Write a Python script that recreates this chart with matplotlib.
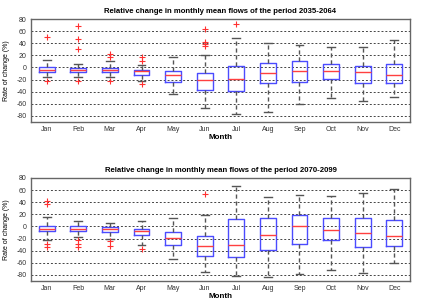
import matplotlib
matplotlib.use("Agg")
import matplotlib.pyplot as plt

months = ["Jan", "Feb", "Mar", "Apr", "May", "Jun", "Jul", "Aug", "Sep", "Oct", "Nov", "Dec"]
yticks = [-80, -60, -40, -20, 0, 20, 40, 60, 80]

# Period 2035-2064
p1_whislo = [-16, -16, -16, -21.7, -44, -67, -77, -73, -61, -50.5, -55.6, -49]
p1_q1 = [-7.8, -6.7, -7, -11.7, -24, -37, -39, -25.6, -24, -19, -25.6, -25.6]
p1_med = [-4.4, -4, -4, -5, -11.7, -20.6, -19, -9, -5.6, -5.6, -7.2, -12]
p1_q3 = [0.5, -0.5, -0.5, -4, -6, -9, 2.2, 7.8, 11, 5.6, 2.2, 5.6]
p1_whishi = [12.8, 6, 11, 4, 16.7, 21, 49, 40.5, 36.7, 34, 34, 45.6]
p1_fliers = [[51, -21.7], [69, 46.7, 30, -21.7], [21.7, 18, -21.7], [16.7, 10, -26.7],
             [], [63, 42, 39, 36], [71.7], [], [], [], [], []]

# Period 2070-2099
p2_whislo = [-23, -16.8, -20.7, -31, -53.6, -75.4, -82, -84, -78.8, -72, -77, -60]
p2_q1 = [-7.8, -7.8, -9.5, -14.5, -31, -48.6, -50, -38.5, -28.5, -23, -34, -32]
p2_med = [-3.4, -3.4, -4.5, -6.7, -19.6, -32.4, -30, -13.4, 0, -5, -11, -15]
p2_q3 = [0.5, 0.5, -0.5, -4, -8.4, -15.6, 11.7, 13.4, 18.4, 14.5, 14.5, 10]
p2_whishi = [16, 8.4, 6, 8.4, 13.4, 18.4, 67, 48.6, 52, 50, 55, 62]
p2_fliers = [[42, 37, -28.5, -34], [-22, -28.5, -34], [-24, -33], [-37],
             [], [53], [], [], [], [], [], []]

periods = [
    ("Relative change in monthly mean flows of the period 2035-2064",
     p1_whislo, p1_q1, p1_med, p1_q3, p1_whishi, p1_fliers),
    ("Relative change in monthly mean flows of the period 2070-2099",
     p2_whislo, p2_q1, p2_med, p2_q3, p2_whishi, p2_fliers),
]

plt.rcParams['font.family'] = ['Liberation Sans', 'DejaVu Sans']

fig = plt.figure(figsize=(4.22, 3.03), dpi=100)
axes_rects = [
    [31/422, 1 - 122/303, 379/422, 103/303],
    [31/422, 1 - 281/303, 379/422, 103/303],
]

for rect, (title, wlo, q1, med, q3, whi, fl) in zip(axes_rects, periods):
    ax = fig.add_axes(rect)
    stats = []
    for i in range(len(months)):
        stats.append(dict(med=med[i], q1=q1[i], q3=q3[i], whislo=wlo[i],
                          whishi=whi[i], fliers=fl[i], label=months[i]))
    ax.bxp(stats, positions=range(1, 13), widths=0.5, showfliers=True,
           boxprops=dict(color="#4b4bff", linewidth=1.0),
           medianprops=dict(color="#ff4040", linewidth=1.0),
           whiskerprops=dict(color="#555555", linewidth=1.0, linestyle=(0, (3, 2))),
           capprops=dict(color="#555555", linewidth=1.0),
           flierprops=dict(marker="+", markeredgecolor="#ff3030", markersize=4,
                           markeredgewidth=0.8, linestyle="none"))
    ax.set_xlim(0.5, 12.5)
    ax.set_ylim(-90, 80)
    ax.set_yticks(yticks)
    ax.set_yticklabels([str(v) for v in yticks])
    for v in yticks[:-1]:
        ax.axhline(v, color="#444444", linestyle=(0, (2, 2)), linewidth=0.7, zorder=0)
    ax.tick_params(axis="both", length=0, labelsize=5, colors="#333333", pad=3)
    for s in ax.spines.values():
        s.set_color("#666666")
        s.set_linewidth(1.0)
    ax.set_title(title, fontsize=5.6, fontweight="bold", pad=4)
    ax.set_xlabel("Month", fontsize=5.8, fontweight="bold")
    ax.set_ylabel("Rate of change (%)", fontsize=5)
    ax.xaxis.set_label_coords(0.5, -0.12)
    ax.yaxis.set_label_coords(-0.055, 0.5)

fig.savefig("out.png", dpi=100)
